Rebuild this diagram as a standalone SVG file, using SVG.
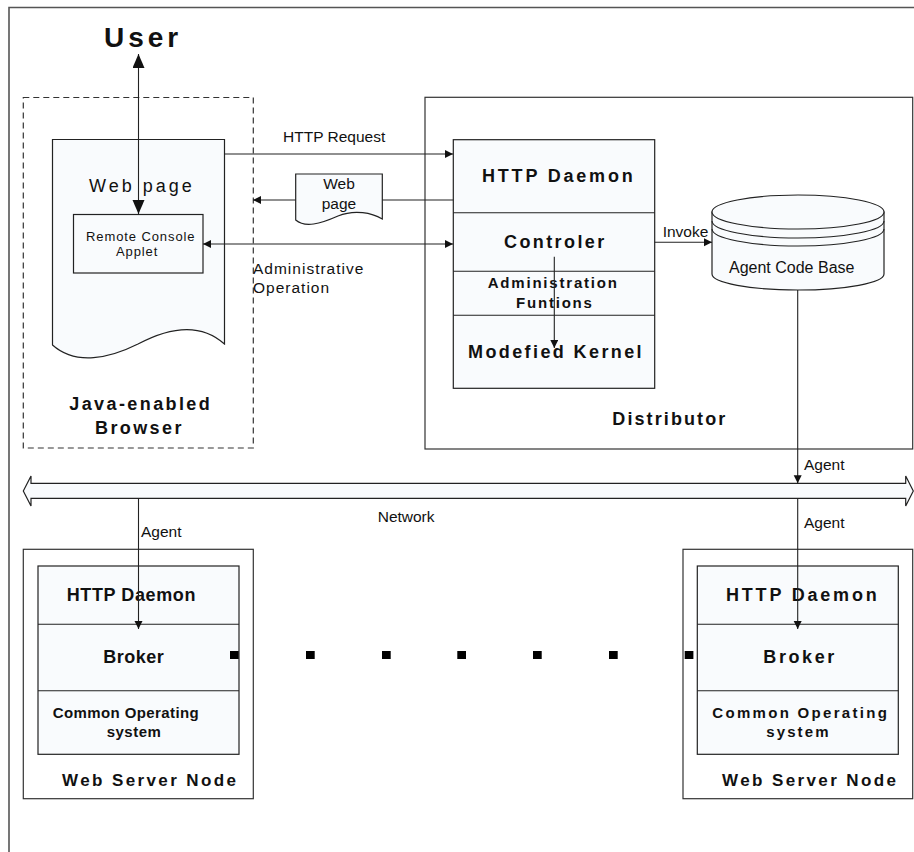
<svg xmlns="http://www.w3.org/2000/svg" width="914" height="852" viewBox="0 0 914 852">
<style>
.f{fill:#f9fbfd;stroke:#222;stroke-width:1.2}
.b{fill:none;stroke:#333;stroke-width:1.2}
.ln{fill:none;stroke:#222;stroke-width:1.1}
.t{font-family:"Liberation Sans",Arial,sans-serif;fill:#111}
.n{font-size:15.5px}
.bd{font-weight:bold}
</style>
<defs>
<marker id="a" markerUnits="userSpaceOnUse" markerWidth="9" markerHeight="9" refX="8" refY="4" orient="auto-start-reverse"><path d="M0,0 L8,4 L0,8 Z" fill="#111"/></marker>
<marker id="big" markerUnits="userSpaceOnUse" markerWidth="15" markerHeight="13" refX="14" refY="6" orient="auto-start-reverse"><path d="M0,0 L14,6 L0,12 Z" fill="#111"/></marker>
</defs>
<rect width="914" height="852" fill="#fff"/>
<path d="M9,852 V7.5 H914" fill="none" stroke="#555" stroke-width="1.6"/>

<g id="user"><text class="t bd" x="104" y="47" font-size="28" letter-spacing="4">User</text></g>

<g id="browser">
<rect x="23.3" y="97.5" width="230" height="350.5" fill="none" stroke="#333" stroke-width="1.2" stroke-dasharray="6,4"/>
<text class="t bd" x="69.3" y="410" font-size="18" letter-spacing="2.4">Java-enabled</text>
<text class="t bd" x="95" y="434" font-size="18" letter-spacing="2.4">Browser</text>
</g>

<g id="webpage">
<path class="f" d="M52.5,139.5 H224.5 V344 C200,322 168,328 138,344 C110,358 76,366 52.5,345 Z"/>
<text class="t" x="89" y="192" font-size="18" letter-spacing="3">Web page</text>
</g>

<g id="applet">
<rect class="f" x="73.5" y="214.5" width="129.5" height="58.5"/>
<text class="t" x="86" y="241" font-size="13" letter-spacing="0.9">Remote Console</text>
<text class="t" x="116" y="256" font-size="13" letter-spacing="0.9">Applet</text>
</g>

<g id="webpage-msg">
<path class="f" d="M295.7,174 H382.3 V219 C372,213 355,209 338,216 C320,224 305,228 295.7,220 Z"/>
<text class="t n" x="339" y="189" text-anchor="middle">Web</text>
<text class="t n" x="339" y="209" text-anchor="middle">page</text>
</g>

<g id="distributor">
<rect class="b" x="425" y="97.3" width="487.7" height="351.7"/>
<text class="t bd" x="612.3" y="425" font-size="18" letter-spacing="2.1">Distributor</text>
</g>

<g id="dist-stack">
<rect class="f" x="453.3" y="139.7" width="201.4" height="248.6"/>
<path class="ln" d="M453.3,212.7 H654.7 M453.3,271.3 H654.7 M453.3,315.3 H654.7"/>
<text class="t bd" x="482" y="181.7" font-size="18" letter-spacing="2.8">HTTP Daemon</text>
<text class="t bd" x="504" y="247.7" font-size="18" letter-spacing="2.4">Controler</text>
<text class="t bd" x="487.7" y="288" font-size="15" letter-spacing="1.8">Administration</text>
<text class="t bd" x="516" y="307.7" font-size="15" letter-spacing="1.8">Funtions</text>
<text class="t bd" x="468" y="357.7" font-size="18" letter-spacing="2.4">Modefied Kernel</text>
</g>

<g id="agent-code-base">
<path class="f" d="M712,212 V274 A86,16 0 0 0 884,274 V212 Z"/>
<ellipse class="f" cx="798" cy="212" rx="86" ry="17"/>
<path class="ln" d="M712,221 A86,17 0 0 0 884,221 M712,229 A86,17 0 0 0 884,229"/>
<text class="t" x="729" y="272.7" font-size="16">Agent Code Base</text>
</g>

<g id="network">
<path class="f" d="M23.3,491 L31,476 L31,483.3 L905.7,483.3 L905.7,476 L913.3,491 L905.7,506 L905.7,498.3 L31,498.3 L31,506 Z"/>
<text class="t n" x="377.7" y="521.7">Network</text>
</g>

<g id="node-left">
<rect class="b" x="23.3" y="549.3" width="230" height="249.4"/>
<rect class="f" x="38" y="566" width="201" height="188.3"/>
<path class="ln" d="M38,624.3 H239 M38,690.7 H239"/>
<text class="t bd" x="66.7" y="600.7" font-size="18" letter-spacing="0.6">HTTP Daemon</text>
<text class="t bd" x="103.3" y="662.7" font-size="18" letter-spacing="0.5">Broker</text>
<text class="t bd" x="52.7" y="717.7" font-size="15" letter-spacing="0.4">Common Operating</text>
<text class="t bd" x="106.7" y="737.3" font-size="15" letter-spacing="0.5">system</text>
<text class="t bd" x="62" y="786" font-size="17" letter-spacing="2.4">Web Server Node</text>
</g>

<g id="node-right">
<rect class="b" x="683" y="549.3" width="229.7" height="249.4"/>
<rect class="f" x="697.3" y="566" width="201" height="188.3"/>
<path class="ln" d="M697.3,624.3 H898.3 M697.3,690.7 H898.3"/>
<text class="t bd" x="726" y="600.7" font-size="18" letter-spacing="2.8">HTTP Daemon</text>
<text class="t bd" x="763.3" y="662.7" font-size="18" letter-spacing="2.6">Broker</text>
<text class="t bd" x="712.3" y="717.7" font-size="15" letter-spacing="2.3">Common Operating</text>
<text class="t bd" x="766.3" y="737.3" font-size="15" letter-spacing="2.1">system</text>
<text class="t bd" x="722" y="786" font-size="17" letter-spacing="2.4">Web Server Node</text>
</g>

<g id="ellipsis" fill="#000">
<rect x="230" y="651" width="8.7" height="8"/>
<rect x="306" y="651" width="8.7" height="8"/>
<rect x="382" y="651" width="8.7" height="8"/>
<rect x="457.3" y="651" width="8.7" height="8"/>
<rect x="533" y="651" width="8.7" height="8"/>
<rect x="609" y="651" width="8.7" height="8"/>
<rect x="684.7" y="651" width="8.7" height="8"/>
</g>

<g id="connectors">
<path class="ln" d="M138.5,54 V214" marker-start="url(#big)" marker-end="url(#big)"/>
<path class="ln" d="M224.5,154 H453" marker-end="url(#a)"/>
<path class="ln" d="M453.3,200 H382.3"/>
<path class="ln" d="M295.7,200 H253" marker-end="url(#a)"/>
<path class="ln" d="M203,244 H453" marker-start="url(#a)" marker-end="url(#a)"/>
<path class="ln" d="M654.7,242.3 H712" marker-end="url(#a)"/>
<path class="ln" d="M554.3,256.7 V348" marker-end="url(#a)"/>
<path class="ln" d="M797.7,290 V483.3" marker-end="url(#a)"/>
<path class="ln" d="M138.5,498.3 V629" marker-end="url(#a)"/>
<path class="ln" d="M797.7,498.3 V629" marker-end="url(#a)"/>
<text class="t n" x="283" y="142">HTTP Request</text>
<text class="t n" x="253" y="274" letter-spacing="1">Administrative</text>
<text class="t n" x="253" y="293" letter-spacing="1">Operation</text>
<text class="t" x="662.7" y="236.7" font-size="15.5">Invoke</text>
<text class="t n" x="804" y="470">Agent</text>
<text class="t n" x="141" y="536.7">Agent</text>
<text class="t n" x="804" y="528">Agent</text>
</g>
</svg>
